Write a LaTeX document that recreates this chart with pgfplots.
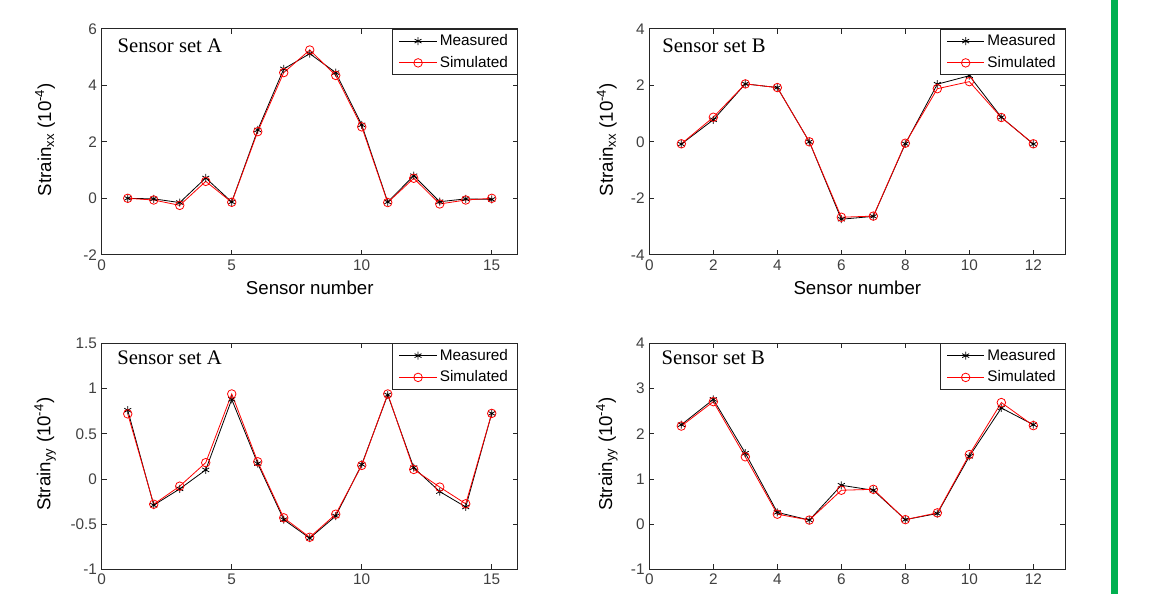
\documentclass[border=0pt]{standalone}
\usepackage{pgfplots}
\usepackage{pgfplotstable}
\pgfplotsset{compat=1.18}
\usepackage{fontspec}
\setmainfont{Liberation Sans}
\newfontfamily\timesfont{Liberation Serif}
\definecolor{officegreen}{RGB}{0,176,80}

% Strain_xx, sensor set A
\pgfplotstableread{
n M S
1 0.00 0.00
2 -0.02 -0.06
3 -0.15 -0.25
4 0.72 0.60
5 -0.13 -0.14
6 2.42 2.36
7 4.58 4.45
8 5.12 5.25
9 4.45 4.35
10 2.60 2.53
11 -0.13 -0.15
12 0.80 0.71
13 -0.12 -0.20
14 -0.02 -0.06
15 -0.04 0.00
}\tabXA
% Strain_xx, sensor set B
\pgfplotstableread{
n M S
1 -0.08 -0.07
2 0.78 0.87
3 2.05 2.05
4 1.92 1.92
5 0.00 0.00
6 -2.74 -2.67
7 -2.64 -2.63
8 -0.07 -0.05
9 2.04 1.88
10 2.34 2.13
11 0.87 0.86
12 -0.08 -0.07
}\tabXB
% Strain_yy, sensor set A
\pgfplotstableread{
n M S
1 0.76 0.72
2 -0.29 -0.28
3 -0.11 -0.08
4 0.10 0.18
5 0.88 0.94
6 0.17 0.19
7 -0.45 -0.43
8 -0.655 -0.645
9 -0.41 -0.39
10 0.16 0.15
11 0.93 0.94
12 0.125 0.105
13 -0.14 -0.09
14 -0.31 -0.275
15 0.725 0.725
}\tabYA
% Strain_yy, sensor set B
\pgfplotstableread{
n M S
1 2.20 2.17
2 2.76 2.71
3 1.57 1.49
4 0.26 0.22
5 0.09 0.09
6 0.86 0.75
7 0.75 0.77
8 0.10 0.10
9 0.235 0.25
10 1.50 1.54
11 2.57 2.69
12 2.20 2.18
}\tabYB

\pgfplotsset{
  mypanel/.style={
    scale only axis, width=312pt, height=169.5pt, anchor=south west,
    tick align=inside, major tick length=3.75pt,
    axis line style={black!85, line width=0.6pt},
    every tick/.style={black!85, line width=0.5pt},
    tick label style={font=\fontsize{11.5}{13}\selectfont, text=black!75},
    label style={font=\fontsize{14}{16}\selectfont, text=black},
    legend cell align=left,
    legend style={at={(1,1)}, anchor=north east, draw=black!85, line width=0.6pt,
      fill=white, font=\fontsize{11.5}{13}\selectfont,
      inner xsep=5pt, inner ysep=2pt, row sep=2.5pt},
    legend image code/.code={\draw[mark repeat=2,mark phase=2,##1] plot coordinates {(0pt,0pt) (14pt,0pt) (28pt,0pt)};},
  },
  meas/.style={black, line width=0.6pt, mark=asterisk, mark size=3pt},
  sim/.style={red, line width=0.6pt, mark=o, mark size=3.2pt},
}
\tikzset{settitle/.style={anchor=base west, inner sep=0pt, font=\timesfont\fontsize{15.5}{18}\selectfont}}

\begin{document}
\begin{tikzpicture}
\path[use as bounding box] (0pt,0pt) rectangle (864.75pt,-445.5pt);
\fill[officegreen] (833.5pt,0pt) rectangle (838.7pt,-445.5pt);

% top left
\begin{axis}[mypanel, at={(76.3pt,-191.1pt)},
  xmin=0, xmax=16, ymin=-2, ymax=6,
  xtick={0,5,10,15}, xticklabels={0,5,10,15},
  ytick={-2,0,2,4,6}, yticklabels={-2,0,2,4,6},
  xlabel={Sensor number},
  xlabel style={at={(axis description cs:0.5,-0.146)}, anchor=center},
  ylabel={Strain\textsubscript{xx} (10\textsuperscript{-4})},
  ylabel style={at={(axis description cs:-0.136,0.51)}, anchor=center}]
\addplot[meas] table[x=n,y=M] {\tabXA};
\addplot[sim] table[x=n,y=S] {\tabXA};
\legend{Measured,Simulated}
\node[settitle, xshift=11.7pt, yshift=-17.5pt] at (rel axis cs:0,1) {Sensor set A};
\end{axis}

% top right
\begin{axis}[mypanel, at={(487pt,-191.1pt)},
  xmin=0, xmax=13, ymin=-4, ymax=4,
  xtick={0,2,4,6,8,10,12}, xticklabels={0,2,4,6,8,10,12},
  ytick={-4,-2,0,2,4}, yticklabels={-4,-2,0,2,4},
  xlabel={Sensor number},
  xlabel style={at={(axis description cs:0.5,-0.146)}, anchor=center},
  ylabel={Strain\textsubscript{xx} (10\textsuperscript{-4})},
  ylabel style={at={(axis description cs:-0.102,0.51)}, anchor=center}]
\addplot[meas] table[x=n,y=M] {\tabXB};
\addplot[sim] table[x=n,y=S] {\tabXB};
\legend{Measured,Simulated}
\node[settitle, xshift=9.5pt, yshift=-17.5pt] at (rel axis cs:0,1) {Sensor set B};
\end{axis}

% bottom left
\begin{axis}[mypanel, at={(76.3pt,-427pt)},
  xmin=0, xmax=16, ymin=-1, ymax=1.5,
  xtick={0,5,10,15}, xticklabels={0,5,10,15},
  ytick={-1,-0.5,0,0.5,1,1.5}, yticklabels={-1,-0.5,0,0.5,1,1.5},
  ylabel={Strain\textsubscript{yy} (10\textsuperscript{-4})},
  ylabel style={at={(axis description cs:-0.136,0.51)}, anchor=center}]
\addplot[meas] table[x=n,y=M] {\tabYA};
\addplot[sim] table[x=n,y=S] {\tabYA};
\legend{Measured,Simulated}
\node[settitle, xshift=11.5pt, yshift=-16.2pt] at (rel axis cs:0,1) {Sensor set A};
\end{axis}

% bottom right
\begin{axis}[mypanel, at={(487pt,-427pt)},
  xmin=0, xmax=13, ymin=-1, ymax=4,
  xtick={0,2,4,6,8,10,12}, xticklabels={0,2,4,6,8,10,12},
  ytick={-1,0,1,2,3,4}, yticklabels={-1,0,1,2,3,4},
  ylabel={Strain\textsubscript{yy} (10\textsuperscript{-4})},
  ylabel style={at={(axis description cs:-0.102,0.51)}, anchor=center}]
\addplot[meas] table[x=n,y=M] {\tabYB};
\addplot[sim] table[x=n,y=S] {\tabYB};
\legend{Measured,Simulated}
\node[settitle, xshift=9pt, yshift=-16.2pt] at (rel axis cs:0,1) {Sensor set B};
\end{axis}
\end{tikzpicture}
\end{document}
